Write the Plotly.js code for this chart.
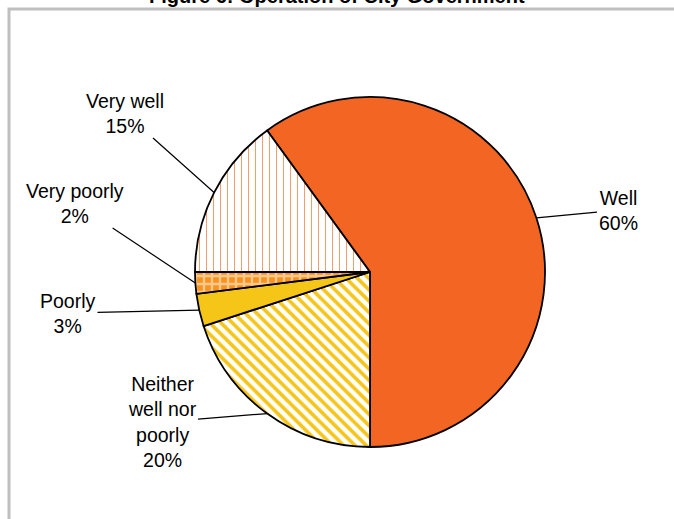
<!DOCTYPE html>
<html>
<head>
<meta charset="utf-8">
<script src="https://cdn.plot.ly/plotly-3.0.1.min.js"></script>
<style>body{margin:0;background:#fff}#chart{width:674px;height:519px}</style>
</head>
<body>
<div id="chart"></div>
<script>
// Operation of city government
const labels = ['Well', 'Neither well nor poorly', 'Poorly', 'Very poorly', 'Very well'];
const displayLabels = ['Well<br>60%', 'Neither<br>well nor<br>poorly<br>20%', 'Poorly<br>3%', 'Very poorly<br>2%', 'Very well<br>15%'];
const values = [60, 20, 3, 2, 15];

const W = 674, H = 519;
const cx = 370, cy = 272, R = 175;
const rotation = -36;
// where each label sits (pixels)
const labelPos = [[618, 210], [162, 422], [68, 313], [75, 203], [125, 113]];

const colors = ['#F26522', '#ffffff', '#F5C518', '#F7941D', '#ffffff'];
const patterns = [
    {shape: ''},
    {shape: '\\', fgcolor: '#F5C518', bgcolor: '#ffffff', size: 8, solidity: 0.45},
    {shape: ''},
    {shape: '+', fgcolor: '#FBC98E', bgcolor: '#F7941D', size: 8, solidity: 0.5},
    {shape: '|', fgcolor: '#F58A4A', bgcolor: '#ffffff', size: 7, solidity: 0.12}
];

const trace = {
    type: 'pie',
    labels: labels,
    values: values,
    sort: false,
    direction: 'clockwise',
    rotation: rotation,
    textinfo: 'none',
    hoverinfo: 'label+percent',
    marker: {colors: colors, pattern: {
        shape: patterns.map(p => p.shape),
        fgcolor: patterns.map(p => p.fgcolor || '#000'),
        bgcolor: patterns.map(p => p.bgcolor || '#fff'),
        size: patterns.map(p => p.size || 8),
        solidity: patterns.map(p => p.solidity || 0.3),
        fillmode: 'replace'
    }, line: {color: '#000', width: 1.8}},
    domain: {x: [(cx - R) / W, (cx + R) / W], y: [1 - (cy + R) / H, 1 - (cy - R) / H]},
    showlegend: false
};

// leader lines from labels to the slice edges
const total = values.reduce((a, b) => a + b, 0);
let acc = 0;
const annotations = values.map((v, i) => {
    const mid = rotation + (acc + v / 2) / total * 360;
    acc += v;
    const a = mid * Math.PI / 180;
    const ex = cx + R * Math.sin(a), ey = cy - R * Math.cos(a);
    return {
        xref: 'paper', yref: 'paper', x: ex / W, y: 1 - ey / H,
        ax: labelPos[i][0] - ex, ay: labelPos[i][1] - ey,
        text: displayLabels[i], showarrow: true, arrowhead: 0, arrowwidth: 1.2,
        arrowcolor: '#000', standoff: 0,
        font: {family: 'Liberation Sans, Arial', size: 19.5, color: '#000'}
    };
});
annotations.push({
    xref: 'paper', yref: 'paper', x: 0.5, y: 1 + 4 / H, yanchor: 'middle',
    text: '<b>Figure 6: Operation of City Government</b>', showarrow: false,
    font: {family: 'Liberation Sans, Arial', size: 20, color: '#000'}
});

const layout = {
    width: W, height: H,
    margin: {l: 0, r: 0, t: 0, b: 0},
    paper_bgcolor: '#fff',
    annotations: annotations,
    shapes: [{type: 'rect', xref: 'paper', yref: 'paper', x0: 9 / W, x1: 1.05, y0: -0.05, y1: 1 - 9 / H,
        line: {color: '#bfbfbf', width: 3}}]
};

Plotly.newPlot('chart', [trace], layout, {displayModeBar: false});
</script>
</body>
</html>
